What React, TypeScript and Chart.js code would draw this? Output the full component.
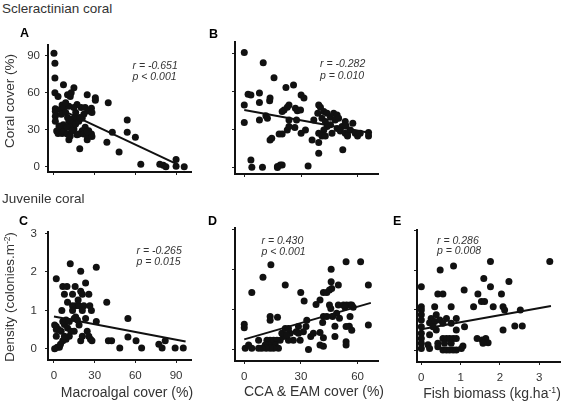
import React, { useEffect, useRef } from 'react';
import { Chart, registerables } from 'chart.js';

Chart.register(...registerables);

const FONT = 'Arial, "Liberation Sans", Helvetica, sans-serif';

// ---------- Panel A: Macroalgal cover (%) vs Coral cover (%) ----------
const aX = [0, 0.7, 0.7, 0.7, 3, 7, 14.7, 10, 12, 12.7, 24.5, 30.5, 30.5, 40, 54, 54, 43, 39, 48, 60, 64, 78, 80.6, 82.5, 90, 90, 96, 19, 11, 24.5,
  1, 1, 1, 1, 2, 3, 4.4, 6, 7.3, 5, 6, 7.3, 5.4, 8.6, 10, 11, 12, 13.4, 14.7, 11.7, 14.7, 16, 17, 18.3, 20.8, 16, 17, 14.7, 11, 8.6, 20, 23, 27.6, 25, 28, 22, 19, 23, 20.8, 18.3, 17, 22, 24.5, 25.6, 27.6, 28, 24.5, 9.8, 12, 6.8, 3.7, 9.8, 13.4];
const aY = [92, 84, 72, 60, 57, 66.5, 64, 58.5, 57, 60, 58.5, 56, 54, 52, 38, 28, 28, 20, 12, 24, 2, 2, 1.3, 0, 6, 0.5, 0, 14.6, 22, 22,
  47, 45, 41, 37, 29, 27, 29, 27, 29, 46.6, 50, 48, 42.6, 44, 40, 37, 34.6, 38.6, 36, 32, 30.6, 34.6, 39.4, 37, 39.4, 44, 50.6, 48, 49, 52, 48, 48, 47.4, 45.3, 44, 42.6, 40, 32, 29.3, 26.6, 26, 26.6, 25.3, 29.3, 26.6, 24.5, 28.5, 26.6, 25, 34, 33, 32, 29.3];
const aFitX = [0, 91];
const aFitY = [49, 2];

// ---------- Panel B: CCA & EAM cover (%) vs Coral cover (%) ----------
const bX = [0, 10, 15.7, 26, 22, 30, 31.5, 2, 3.5, 8, 8, 13.6, 13.4, 0, 0, 8, 11.4, 12.2, 21, 22.7, 23.6, 20, 27, 28, 29.7, 27.6, 23.6, 22.7, 18.4, 20, 14.5, 13.6, 30, 26.7, 23.6, 32.3, 35.8, 33.7, 39.3, 39.3, 39.3, 40.2, 38.8, 36.7, 42, 43.7, 41, 42.8, 45.5, 47.2, 49, 48, 49.8, 45.5, 43.7, 42, 39.3, 41, 42.8, 46.3, 49, 51.6, 53.3, 53.7, 50.7, 53.3, 54.5, 56, 57.3, 58.6, 59.8, 54.5, 61.2, 65.6, 65.6, 52, 3.5, 4, 9.6, 17.5, 19, 20, 17.5];
const bY = [91, 83, 71, 65.4, 63.3, 57.5, 55, 58, 57.5, 59, 51.5, 55, 52.8, 49.6, 35.6, 37.7, 41, 39, 45.6, 47.8, 49.6, 44.3, 47, 44.9, 45.6, 37.7, 37.7, 29.8, 26.6, 26.6, 23.2, 21.9, 27.2, 31.7, 32.5, 29.8, 21.9, 1.3, 19.8, 11.3, 49.6, 47.8, 43, 37.7, 44.3, 43, 39, 36.4, 39.8, 43, 41.7, 37.7, 39, 33.8, 32.5, 29.8, 27.2, 25, 25, 27.2, 31, 32.5, 36.4, 33, 29, 27.2, 25.9, 29.8, 35, 27.2, 25, 25, 27.2, 27.7, 25, 14, 6, 0.3, 0.3, 0.8, 2, 2, 0];
const bFitX = [0, 66];
const bFitY = [45.5, 27.6];

// ---------- Panel C: Macroalgal cover (%) vs Density ----------
const cX = [1.7, 12, 19.7, 31.2, 6.5, 9.6, 15.6, 7.7, 13.7, 19.7, 20.9, 23.3, 25.7, 10, 16, 13.7, 18.5, 22, 20.9, 26.4, 27.6, 38.9, 5.8, 1.7, 1.7, 1.7, 2.4, 4, 3.4, 5.3, 6.5, 7.7, 8.9, 11.3, 10, 12.5, 11.3, 8.9, 6.5, 4.8, 14.9, 16, 17.3, 14.9, 18.5, 19.7, 20.9, 23.3, 24.5, 25.7, 26.9, 28, 31.2, 40.1, 42.5, 48.5, 54.5, 54.5, 60.5, 64.6, 77.3, 79.7, 82, 89.3, 95.3, 13.7, 17.8, 7.7, 0.5, 0.5];
const cY = [1.82, 2.21, 2.02, 2.12, 1.62, 1.62, 1.62, 1.42, 1.42, 1.5, 1.42, 1.71, 1.42, 1.21, 1.12, 1.12, 1.12, 1.12, 1.0, 1.12, 1.0, 1.21, 1.0, 0.58, 0.5, 0.33, 0.04, 0.04, 0.5, 0.46, 0.71, 0.63, 0.75, 0.71, 0.54, 0.46, 0.33, 0.25, 0.21, 0.12, 0.79, 0.83, 0.75, 0.46, 0.62, 0.21, 0.33, 0.79, 0.46, 0.33, 0.25, 0.21, 0.71, 0.21, 0.21, 0.02, 0.79, 0.31, 0.21, 0.02, 0.12, 0.02, 0.21, 0.02, 0.02, 1.0, 1.27, 0.33, 0.62, 0.0];
const cFitX = [0, 97];
const cFitY = [0.84, 0.19];

// ---------- Panel D: CCA & EAM cover (%) vs Density ----------
const dX = [14.1, 9.9, 4, 21.7, 29.9, 31.7, 46, 46, 53.9, 61.6, 65.7, 65.7, 49.8, 41.9, 43.7, 45.1, 46.3, 40.1, 38, 45.1, 45.8, 49.8, 52.5, 54.2, 56, 57.7, 56.9, 53.3, 48.9, 50.4, 46.8, 41.9, 43.7, 41.5, 56, 55.6, 53.9, 56.9, 48, 40.1, 41.9, 40.1, 41.9, 34, 35.2, 36.6, 48, 53.9, 53.9, 32.7, 31.3, 28.7, 27.5, 28.7, 29.6, 26, 23.4, 24.3, 20.8, 19, 19.9, 17.3, 15.5, 13.7, 12, 14.6, 16.4, 12.9, 11.1, 18.1, 15.5, 13.7, 11.6, 9.3, 7.6, 4, 0.5, 2.3, 7.6, 0, 0, 13.7, 13.7, 17.6, 21.7, 23.4, 22.5, 33.1];
const dY = [2.11, 1.8, 1.42, 1.61, 1.42, 1.21, 2.0, 1.69, 2.19, 2.19, 1.61, 0.61, 1.61, 1.42, 1.42, 1.48, 1.52, 1.23, 1.12, 1.11, 1.02, 1.11, 1.11, 1.11, 1.11, 1.05, 1.11, 1.05, 0.9, 0.78, 0.82, 0.82, 0.82, 0.67, 0.82, 0.58, 0.57, 0.48, 0.58, 0.42, 0.29, 0.11, 0.08, 0, 0.32, 0.4, 0.32, 0.19, 0.11, 0.57, 0.44, 0.57, 0.44, 0.4, 0.23, 0.23, 0.23, 0.4, 0.32, 0.23, 0.4, 0.23, 0.23, 0.23, 0.23, 0.15, 0.11, 0.11, 0.11, 0.03, 0.03, 0.03, 0.03, 0.03, 0.03, 0.03, 0.03, 0.11, 0.23, 0.63, 0.54, 0.82, 0.73, 0.8, 0.52, 0.52, 0.36, 0.73];
const dFitX = [0, 67];
const dFitY = [0.25, 1.16];

// ---------- Panel E: Fish biomass (kg.ha-1) vs Density ----------
const eX = [3.27, 1.76, 0.82, 0.48, 1.59, 2.23, 1.76, 0, 1.09, 1.44, 2.04, 0.42, 0.55, 1.53, 1.61, 1.33, 1.83, 2.08, 2.12, 2.52, 0, 0, 0.34, 0.76, 0.38, 0.25, 0.21, 0.34, 0.47, 0.64, 0.55, 0.89, 0.76, 0.89, 1.1, 0.38, 0.3, 2.08, 2.38, 2.57, 0, 0, 0, 0, 0, 0, 0, 0.21, 0.17, 0.21, 0.42, 0.42, 0.55, 0.64, 0.72, 0.81, 0.89, 0.59, 0.76, 0.55, 0.64, 0.72, 0.81, 0.89, 1.02, 1.06, 1.42, 1.55, 1.64, 1.7, 1.57];
const eY = [2.21, 2.21, 2.1, 2.0, 1.79, 1.71, 1.58, 1.58, 1.5, 1.4, 1.4, 1.4, 1.4, 1.21, 1.21, 1.08, 1.08, 1.08, 1.0, 1.0, 1.08, 1.0, 1.08, 1.08, 0.88, 0.79, 0.68, 0.71, 0.75, 0.79, 0.67, 0.79, 0.67, 0.5, 0.58, 0.5, 0.58, 0.5, 0.6, 0.6, 0.88, 0.75, 0.58, 0.42, 0.29, 0.17, 0.04, 0.38, 0.13, 0.04, 0.17, 0.08, 0.29, 0.29, 0.29, 0.29, 0.29, 0.17, 0.17, 0, 0, 0, 0, 0, 0.04, 0.1, 0.29, 0.25, 0.29, 0.18, 0.17];
const eFitX = [0, 3.3];
const eFitY = [0.52, 1.1];

// ---------- Tick values ----------
const pctTicks90 = [0, 30, 60, 90];
const pctTicks60 = [0, 30, 60];
const densTicks = [0, 1, 2, 3];
const fishTicks = [0, 1, 2, 3];

const YW = 36, PT = 10, PR = 8, XH = 28;

type PanelDef = {
  xs: number[]; ys: number[]; fx: number[]; fy: number[];
  area: [number, number, number, number];
  xr: [number, number]; yr: [number, number];
  xt: number[]; yt: number[];
  xLab: boolean; yLab: boolean; yPad: number;
};

const panels: PanelDef[] = [
  { xs: aX, ys: aY, fx: aFitX, fy: aFitY, area: [48, 43, 191, 172], xr: [-4.4, 101], yr: [-4.2, 98.8], xt: pctTicks90, yt: pctTicks90, xLab: false, yLab: true, yPad: 5 },
  { xs: bX, ys: bY, fx: bFitX, fy: bFitY, area: [235, 42, 378, 174], xr: [-4.9, 70.6], yr: [-5.1, 99.4], xt: pctTicks60, yt: pctTicks90, xLab: false, yLab: false, yPad: 5 },
  { xs: cX, ys: cY, fx: cFitX, fy: cFitY, area: [48, 227, 191, 360], xr: [-4.4, 101], yr: [-0.29, 3.04], xt: pctTicks90, yt: densTicks, xLab: true, yLab: true, yPad: 8 },
  { xs: dX, ys: dY, fx: dFitX, fy: dFitY, area: [235, 228, 378, 361], xr: [-4.9, 70.8], yr: [-0.29, 3.03], xt: pctTicks60, yt: densTicks, xLab: true, yLab: false, yPad: 5 },
  { xs: eX, ys: eY, fx: eFitX, fy: eFitY, area: [417, 230, 560, 362], xr: [-0.11, 3.53], yr: [-0.3, 3.0], xt: fishTicks, yt: densTicks, xLab: true, yLab: false, yPad: 5 },
];

function PanelChart({ p }: { p: PanelDef }) {
  const ref = useRef<HTMLCanvasElement>(null);
  const [l, t, r, b] = p.area;
  const w = r - l + YW + PR;
  const h = b - t + PT + XH;
  useEffect(() => {
    if (!ref.current) return;
    const pts = p.xs.map((x, i) => ({ x, y: p.ys[i] }));
    const fit = p.fx.map((x, i) => ({ x, y: p.fy[i] }));
    const tickFont = { family: FONT, size: 11.5 };
    const chart = new Chart(ref.current, {
      type: 'scatter',
      data: {
        datasets: [
          { data: pts, pointRadius: 3.5, pointBackgroundColor: '#111', pointBorderWidth: 0, showLine: false },
          { data: fit, showLine: true, pointRadius: 0, borderColor: '#111', borderWidth: 2, fill: false },
        ],
      },
      options: {
        animation: false,
        responsive: false,
        devicePixelRatio: 1,
        events: [],
        plugins: { legend: { display: false }, tooltip: { enabled: false } },
        layout: { padding: { left: 0, top: PT, right: PR, bottom: 0 } },
        scales: {
          x: {
            type: 'linear', min: p.xr[0], max: p.xr[1],
            afterFit: (s: any) => { s.height = XH; },
            afterBuildTicks: (s: any) => { s.ticks = p.xt.map((v) => ({ value: v })); },
            grid: { drawOnChartArea: false, drawTicks: true, tickLength: 3, color: '#222', lineWidth: 1 },
            border: { display: true, width: 2, color: '#111' },
            ticks: { display: p.xLab, padding: 6, autoSkip: false, maxRotation: 0, font: tickFont, color: '#333' },
          },
          y: {
            type: 'linear', min: p.yr[0], max: p.yr[1],
            afterFit: (s: any) => { s.width = YW; },
            afterBuildTicks: (s: any) => { s.ticks = p.yt.map((v) => ({ value: v })); },
            grid: { drawOnChartArea: false, drawTicks: true, tickLength: 3, color: '#222', lineWidth: 1 },
            border: { display: true, width: 2, color: '#111' },
            ticks: { display: p.yLab, padding: p.yPad, autoSkip: false, font: tickFont, color: '#333' },
          },
        },
      } as any,
    });
    return () => chart.destroy();
  }, []);
  return (
    <canvas
      ref={ref}
      width={w}
      height={h}
      style={{ position: 'absolute', left: l - YW, top: t - PT, width: w, height: h }}
    />
  );
}

function T({ x, y, size, children, style }: any) {
  return (
    <div style={{ position: 'absolute', left: x, top: y - size * 0.5, fontSize: size, lineHeight: 1, fontFamily: FONT, whiteSpace: 'nowrap', color: '#333', ...style }}>
      {children}
    </div>
  );
}

function CT({ x, y, size, rot, children }: any) {
  return (
    <div style={{ position: 'absolute', left: x, top: y, fontSize: size, lineHeight: 1, fontFamily: FONT, whiteSpace: 'nowrap', color: '#333', transform: `translate(-50%, -50%)${rot ? ' rotate(-90deg)' : ''}` }}>
      {children}
    </div>
  );
}

const supStyle = { fontSize: '0.62em', verticalAlign: '0.55em', lineHeight: 0 } as any;

export default function App() {
  const ann = { fontStyle: 'italic' };
  return (
    <div style={{ position: 'absolute', left: 0, top: 0, width: 565, height: 404, background: '#fff', overflow: 'hidden' }}>
      {panels.map((p, i) => <PanelChart key={i} p={p} />)}

      <T x={2} y={8.5} size={13.5}>Scleractinian coral</T>
      <T x={2} y={198.5} size={13.5}>Juvenile coral</T>

      <T x={20} y={33} size={12.5} style={{ fontWeight: 'bold', color: '#000' }}>A</T>
      <T x={209} y={34} size={12.5} style={{ fontWeight: 'bold', color: '#000' }}>B</T>
      <T x={19} y={221} size={12.5} style={{ fontWeight: 'bold', color: '#000' }}>C</T>
      <T x={208} y={221} size={12.5} style={{ fontWeight: 'bold', color: '#000' }}>D</T>
      <T x={393} y={221} size={12.5} style={{ fontWeight: 'bold', color: '#000' }}>E</T>

      <T x={132.5} y={65} size={10.5} style={ann}>r = -0.651</T>
      <T x={132.5} y={76.7} size={10.5} style={ann}>p &lt; 0.001</T>
      <T x={320} y={63.3} size={10.5} style={ann}>r = -0.282</T>
      <T x={320} y={75} size={10.5} style={ann}>p = 0.010</T>
      <T x={136.5} y={250} size={10.5} style={ann}>r = -0.265</T>
      <T x={136.5} y={261.7} size={10.5} style={ann}>p = 0.015</T>
      <T x={261.5} y={240.5} size={10.5} style={ann}>r = 0.430</T>
      <T x={261.5} y={251.7} size={10.5} style={ann}>p &lt; 0.001</T>
      <T x={437} y={240} size={10.5} style={ann}>r = 0.286</T>
      <T x={437} y={250.7} size={10.5} style={ann}>p = 0.008</T>

      <CT x={10} y={101} size={13.5} rot>Coral cover (%)</CT>
      <CT x={10} y={297} size={13.5} rot>Density (colonies.m<span style={supStyle}>-2</span>)</CT>

      <CT x={127} y={391.5} size={14}>Macroalgal cover (%)</CT>
      <CT x={314} y={391} size={14}>CCA &amp; EAM cover (%)</CT>
      <CT x={492} y={392.5} size={14}>Fish biomass (kg.ha<span style={supStyle}>-1</span>)</CT>
    </div>
  );
}
